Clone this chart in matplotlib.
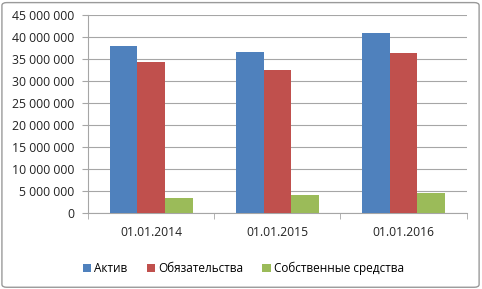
import numpy as np
import matplotlib.pyplot as plt
from matplotlib.patches import FancyBboxPatch
from matplotlib.ticker import FuncFormatter, MultipleLocator

# Data
categories = ['01.01.2014', '01.01.2015', '01.01.2016']
aktiv = [38.0e6, 36.6e6, 40.9e6]
obyaz = [34.5e6, 32.5e6, 36.4e6]
sobstv = [3.5e6, 4.15e6, 4.55e6]
series_names = ['Актив', 'Обязательства', 'Собственные средства']
colors = ['#4f81bd', '#c0504d', '#9bbb59']

plt.rcParams['font.family'] = ['Open Sans', 'DejaVu Sans']

fig = plt.figure(figsize=(4.82, 2.89), dpi=100)
ax = fig.add_axes([0.183, 0.262, 0.785, 0.685])

x = np.arange(len(categories))
w = 0.22
for i, (vals, name, c) in enumerate(zip([aktiv, obyaz, sobstv], series_names, colors)):
    ax.bar(x + (i - 1) * w, vals, w, color=c, label=name, zorder=3)

ax.set_xlim(-0.5, 2.5)
ax.set_ylim(0, 45e6)
ax.yaxis.set_major_locator(MultipleLocator(5e6))
ax.yaxis.set_major_formatter(FuncFormatter(lambda v, p: f'{int(v):,}'.replace(',', ' ')))
ax.grid(axis='y', color='#a6a6a6', linewidth=0.8, zorder=0)

# category labels centered, tick marks at boundaries
ax.set_xticks(x)
ax.set_xticklabels(categories)
ax.tick_params(axis='x', length=0, pad=9, labelsize=8.7, colors='#222222')
ax.set_xticks([-0.5, 0.5, 1.5, 2.5], minor=True)
ax.tick_params(axis='x', which='minor', length=4, color='#a6a6a6')
ax.tick_params(axis='y', length=4, color='#a6a6a6', labelsize=8.8, labelcolor='#222222', pad=6)

for s in ['top', 'right']:
    ax.spines[s].set_visible(False)
for s in ['left', 'bottom']:
    ax.spines[s].set_color('#a6a6a6')
    ax.spines[s].set_linewidth(0.8)

fig.legend(loc='center', bbox_to_anchor=(0.505, 0.072), ncol=3, frameon=False,
           fontsize=8.5, handlelength=0.7, handleheight=0.7, handletextpad=0.3,
           columnspacing=1.6)

border = FancyBboxPatch((0.004, 0.006), 0.99, 0.985, boxstyle='round,pad=0,rounding_size=0.01',
                        transform=fig.transFigure, fill=False, edgecolor='#9a9a9a', linewidth=1.0)
fig.patches.append(border)

fig.savefig('out.png', dpi=100)
